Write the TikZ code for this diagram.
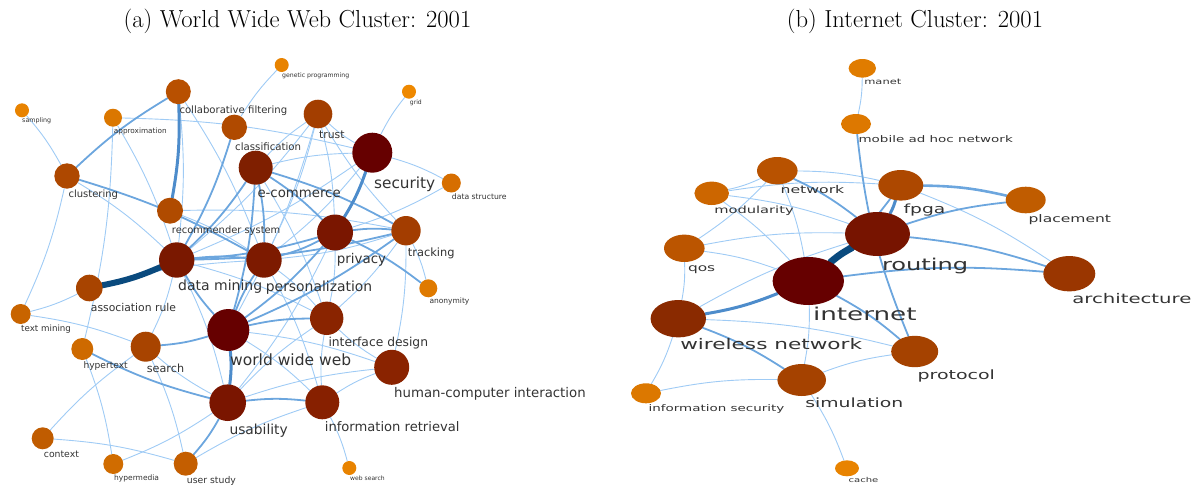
\documentclass[tikz,border=0pt]{standalone}
\usepackage{fontspec}
\newfontfamily\labf{DejaVu Sans}
\usetikzlibrary{shapes.geometric}
\pgfdeclarelayer{bg}\pgfsetlayers{bg,main}
\definecolor{ethin}{HTML}{9FCBF5}
\definecolor{emed}{HTML}{6CA6DE}
\definecolor{ethick}{HTML}{4D8CCB}
\definecolor{edark}{HTML}{0A4A7E}
\definecolor{labc}{HTML}{333333}
\tikzset{
  dot/.style={circle, draw=none, inner sep=0pt},
  ell/.style={ellipse, draw=none, inner sep=0pt},
  lab/.style={anchor=base west, inner sep=0pt, text=labc},
  ebase/.style={bend left=6, line cap=round},
  e1/.style={ebase, draw=ethin, line width=0.9pt},
  e2/.style={ebase, draw=emed, line width=1.8pt},
  e3/.style={ebase, draw=ethick, line width=3pt},
  e4/.style={ebase, draw=edark, line width=6pt},
  ttl/.style={font=\fontsize{24.6}{28}\selectfont, anchor=base, inner sep=0pt}
}
\newcommand\cn[5]{\definecolor{col#1}{HTML}{#5}\node[dot, minimum size=#4, fill=col#1] (#1) at (#2,#3) {};}
\newcommand\en[6]{\definecolor{col#1}{HTML}{#6}\node[ell, minimum width=#4, minimum height=#5, fill=col#1] (#1) at (#2,#3) {};}
\newcommand\lbl[5]{\node[lab, font=\labf\fontsize{#4}{#4}\selectfont] (#1) at (#2,{#3+0.33*#4}) {#5};}
\newcommand\lblr[5]{\node[lab, xscale=1.48, font=\labf\fontsize{#4}{#4}\selectfont] (#1) at (#2,{#3+0.33*#4}) {#5};}
\newcommand\ed[3]{\draw[#1] (#2) to (#3);}
\begin{document}
\begin{tikzpicture}[x=1pt,y=-1pt]
\useasboundingbox (0,0) rectangle (1195,485);
% titles
\node[ttl] (ta) at (297.5,27) {(a) World Wide Web Cluster: 2001};
\node[ttl] (tb) at (915,27) {(b) Internet Cluster: 2001};
% ---------------- left nodes
\cn{gen}{281.7}{65}{14}{E88300}
\cn{samp}{22}{110.3}{14}{E88300}
\cn{approx}{113}{117.7}{18}{DB7700}
\cn{collab}{178.3}{91.7}{25}{B85000}
\cn{classif}{234.3}{127.3}{25.4}{B04A00}
\cn{clust}{67}{176}{25.4}{AE4800}
\cn{recsys}{170}{210.7}{26}{B04B00}
\cn{ecom}{255.7}{167.7}{34}{7F1F00}
\cn{trust}{318}{114}{28.6}{A33E00}
\cn{sec}{372.3}{152.7}{40}{660000}
\cn{grid}{409}{91.7}{14}{EE8800}
\cn{dstruct}{451.3}{183}{19}{D66E00}
\cn{priv}{335}{232.5}{36}{7A1600}
\cn{track}{406}{230.7}{29.4}{A33D00}
\cn{pers}{264}{260}{35.4}{7D1A00}
\cn{dmin}{176.7}{260}{35.4}{7A1800}
\cn{assoc}{89.3}{288}{26.6}{A84400}
\cn{tmin}{20.7}{314}{20}{C86400}
\cn{hyper}{82.3}{349}{22}{CE6A00}
\cn{search}{145.7}{346.7}{30}{A84400}
\cn{www}{228.3}{330}{42}{660000}
\cn{usab}{227.7}{402.7}{36.6}{7A1500}
\cn{context}{42.7}{438.3}{22}{C05C00}
\cn{hmedia}{113.3}{464}{20}{D06C00}
\cn{ustudy}{185.7}{463.7}{24}{C45E00}
\cn{idesign}{326.7}{318.3}{33.4}{8A2400}
\cn{hci}{391.7}{367.3}{35}{8A2300}
\cn{iret}{322.3}{402.3}{34}{872000}
\cn{anon}{428.3}{288.3}{18}{DF7A00}
\cn{wsearch}{349.3}{468}{14}{E88300}
% left labels
\lbl{Lgen}{282}{75.7}{6.2}{genetic programming}
\lbl{Lsamp}{22}{120.3}{6.35}{sampling}
\lbl{Lapprox}{113.7}{131}{7.3}{approximation}
\lbl{Lcollab}{179.3}{110.3}{10.1}{collaborative filtering}
\lbl{Lclassif}{235}{146.7}{10.2}{classification}
\lbl{Lclust}{68.3}{194.3}{10}{clustering}
\lbl{Lrecsys}{171.7}{230.7}{9.9}{recommender system}
\lbl{Lecom}{257.3}{193.3}{13.3}{e-commerce}
\lbl{Ltrust}{319}{135.3}{10.8}{trust}
\lbl{Lsec}{374}{183.3}{15.3}{security}
\lbl{Lgrid}{409.7}{102.7}{6.1}{grid}
\lbl{Ldstruct}{451.7}{197}{7.7}{data structure}
\lbl{Lpriv}{336.7}{259.3}{13.4}{privacy}
\lbl{Ltrack}{407.7}{252.7}{11.4}{tracking}
\lbl{Lpers}{265.7}{286.7}{13.9}{personalization}
\lbl{Ldmin}{178}{285.7}{14}{data mining}
\lbl{Lassoc}{90.7}{308.3}{10.8}{association rule}
\lbl{Ltmin}{21}{329}{8.7}{text mining}
\lbl{Lhyper}{83.3}{365.7}{9.1}{hypertext}
\lbl{Lsearch}{146.7}{368.3}{11.2}{search}
\lbl{Lwww}{230}{360}{15.5}{world wide web}
\lbl{Lusab}{229.3}{430}{13.8}{usability}
\lbl{Lcontext}{43.7}{454.3}{9.3}{context}
\lbl{Lhmedia}{114}{478.3}{7.5}{hypermedia}
\lbl{Lustudy}{186.7}{480}{9.3}{user study}
\lbl{Lidesign}{328.3}{342.3}{12.3}{interface design}
\lbl{Lhci}{394}{392.7}{13.3}{human-computer interaction}
\lbl{Liret}{324.7}{426.7}{13.1}{information retrieval}
\lbl{Lanon}{429.3}{301.3}{7.5}{anonymity}
\lbl{Lwsearch}{350}{478.7}{6.05}{web search}
% ---------------- right nodes
\en{manet}{862.3}{68.3}{27.4}{18.6}{E07C00}
\en{mob}{856}{124}{30}{20}{DD7800}
\en{net}{777.3}{170.7}{40.6}{27.4}{B85200}
\en{mod}{711.7}{193.3}{34.6}{23.4}{CC6600}
\en{fpga}{900.8}{185.3}{45}{30.6}{AD4800}
\en{place}{1025.7}{200}{40}{26.6}{C05C00}
\en{rout}{877.5}{234}{65}{44}{771400}
\en{arch}{1069.3}{273.7}{52}{35.4}{9A3600}
\en{qos}{684.3}{248.3}{40.6}{27.4}{BB5500}
\en{inet}{808.3}{281}{71.4}{48}{660000}
\en{wnet}{678.3}{318.7}{55.4}{37.4}{8A2A00}
\en{proto}{914.7}{351.5}{47}{31.4}{A54200}
\en{sim}{801.7}{380}{48.6}{32}{A54200}
\en{isec}{646}{393.3}{30}{20}{DC7800}
\en{cache}{847}{468.3}{24}{16}{E88300}
% right labels
\lblr{Lmanet}{864}{82}{7.75}{manet}
\lblr{Lmob}{858.3}{139.3}{9.1}{mobile ad hoc network}
\lblr{Lnet}{780.3}{190.3}{10.6}{network}
\lblr{Lmod}{714}{210.7}{9.9}{modularity}
\lblr{Lfpga}{903.3}{209}{12.6}{fpga}
\lblr{Lplace}{1028.3}{219.3}{10.5}{placement}
\lblr{Lrout}{881.7}{265}{16.3}{routing}
\lblr{Larch}{1072}{299}{13.3}{architecture}
\lblr{Lqos}{687.7}{268.3}{10.4}{qos}
\lblr{Linet}{812.7}{315}{17.7}{internet}
\lblr{Lwnet}{680}{345}{14.6}{wireless network}
\lblr{Lproto}{917.3}{375}{12.8}{protocol}
\lblr{Lsim}{805}{403.3}{12.7}{simulation}
\lblr{Lisec}{648.3}{408.7}{9.1}{information security}
\lblr{Lcache}{848.3}{480}{6.8}{cache}
% ---------------- edges
\begin{pgfonlayer}{bg}
% left, thin
\ed{e1}{samp}{clust}
\ed{e1}{clust}{tmin}
\ed{e1}{clust}{dmin}
\ed{e1}{approx}{sec}
\ed{e1}{approx}{dmin}
\ed{e1}{approx}{hyper}
\ed{e1}{collab}{dmin}
\ed{e1}{collab}{pers}
\ed{e1}{classif}{gen}
\ed{e1}{recsys}{track}
\ed{e1}{recsys}{pers}
\ed{e1}{ecom}{idesign}
\ed{e1}{ecom}{trust}
\ed{e1}{ecom}{sec}
\ed{e1}{sec}{trust}
\ed{e1}{sec}{grid}
\ed{e1}{sec}{dstruct}
\ed{e1}{sec}{pers}
\ed{e1}{sec}{dmin}
\ed{e1}{dstruct}{priv}
\ed{e1}{priv}{idesign}
\ed{e1}{priv}{usab}
\ed{e1}{track}{anon}
\ed{e1}{track}{pers}
\ed{e1}{track}{idesign}
\ed{e1}{track}{hci}
\ed{e1}{track}{trust}
\ed{e1}{trust}{dmin}
\ed{e1}{trust}{priv}
\ed{e1}{trust}{pers}
\ed{e1}{trust}{www}
\ed{e1}{www}{hci}
\ed{e1}{assoc}{pers}
\ed{e1}{dmin}{search}
\ed{e1}{dmin}{idesign}
\ed{e1}{dmin}{usab}
\ed{e1}{assoc}{tmin}
\ed{e1}{tmin}{search}
\ed{e1}{usab}{hmedia}
\ed{e1}{usab}{hci}
\ed{e1}{usab}{search}
\ed{e1}{usab}{idesign}
\ed{e1}{hyper}{hmedia}
\ed{e1}{search}{ustudy}
\ed{e1}{context}{search}
\ed{e1}{context}{ustudy}
\ed{e1}{iret}{wsearch}
\ed{e1}{iret}{hci}
\ed{e1}{iret}{idesign}
\ed{e1}{hci}{idesign}
\ed{e1}{pers}{idesign}
\ed{e1}{pers}{iret}
\ed{e1}{ustudy}{iret}
\ed{e1}{www}{iret}
% left, medium
\ed{e2}{clust}{collab}
\ed{e2}{clust}{pers}
\ed{e2}{classif}{dmin}
\ed{e2}{ecom}{dmin}
\ed{e2}{ecom}{pers}
\ed{e2}{ecom}{priv}
\ed{e2}{ecom}{track}
\ed{e2}{ecom}{www}
\ed{e2}{priv}{www}
\ed{e2}{priv}{track}
\ed{e2}{priv}{dmin}
\ed{e2}{priv}{pers}
\ed{e2}{priv}{anon}
\ed{e2}{track}{dmin}
\ed{e2}{track}{www}
\ed{e2}{www}{idesign}
\ed{e2}{www}{dmin}
\ed{e2}{www}{pers}
\ed{e2}{www}{search}
\ed{e2}{dmin}{pers}
\ed{e2}{usab}{hyper}
\ed{e2}{usab}{ustudy}
\ed{e2}{usab}{iret}
% left, thick
\ed{e3}{collab}{recsys}
\ed{e3}{sec}{priv}
\ed{e3}{www}{usab}
\ed{e4}{dmin}{assoc}
% right, thin
\ed{e1}{manet}{mob}
\ed{e1}{net}{mod}
\ed{e1}{net}{fpga}
\ed{e1}{mod}{fpga}
\ed{e1}{net}{qos}
\ed{e1}{net}{inet}
\ed{e1}{mod}{rout}
\ed{e1}{mod}{inet}
\ed{e1}{qos}{rout}
\ed{e1}{qos}{inet}
\ed{e1}{qos}{wnet}
\ed{e1}{fpga}{arch}
\ed{e1}{wnet}{rout}
\ed{e1}{inet}{sim}
\ed{e1}{wnet}{proto}
\ed{e1}{wnet}{isec}
\ed{e1}{isec}{sim}
\ed{e1}{sim}{proto}
\ed{e1}{sim}{cache}
% right, medium
\draw[e2, bend right=8] (mob) to (proto);
\ed{e2}{net}{rout}
\ed{e2}{fpga}{inet}
\ed{e2}{rout}{place}
\ed{e2}{rout}{arch}
\ed{e2}{inet}{arch}
\ed{e2}{inet}{proto}
\ed{e2}{wnet}{sim}
\draw[e2, line width=2.6pt] (fpga) to (place);
% right, thick
\ed{e3}{fpga}{rout}
\ed{e3}{inet}{wnet}
\draw[e4, line width=7pt] (inet) to (rout);
\end{pgfonlayer}
\end{tikzpicture}
\end{document}
